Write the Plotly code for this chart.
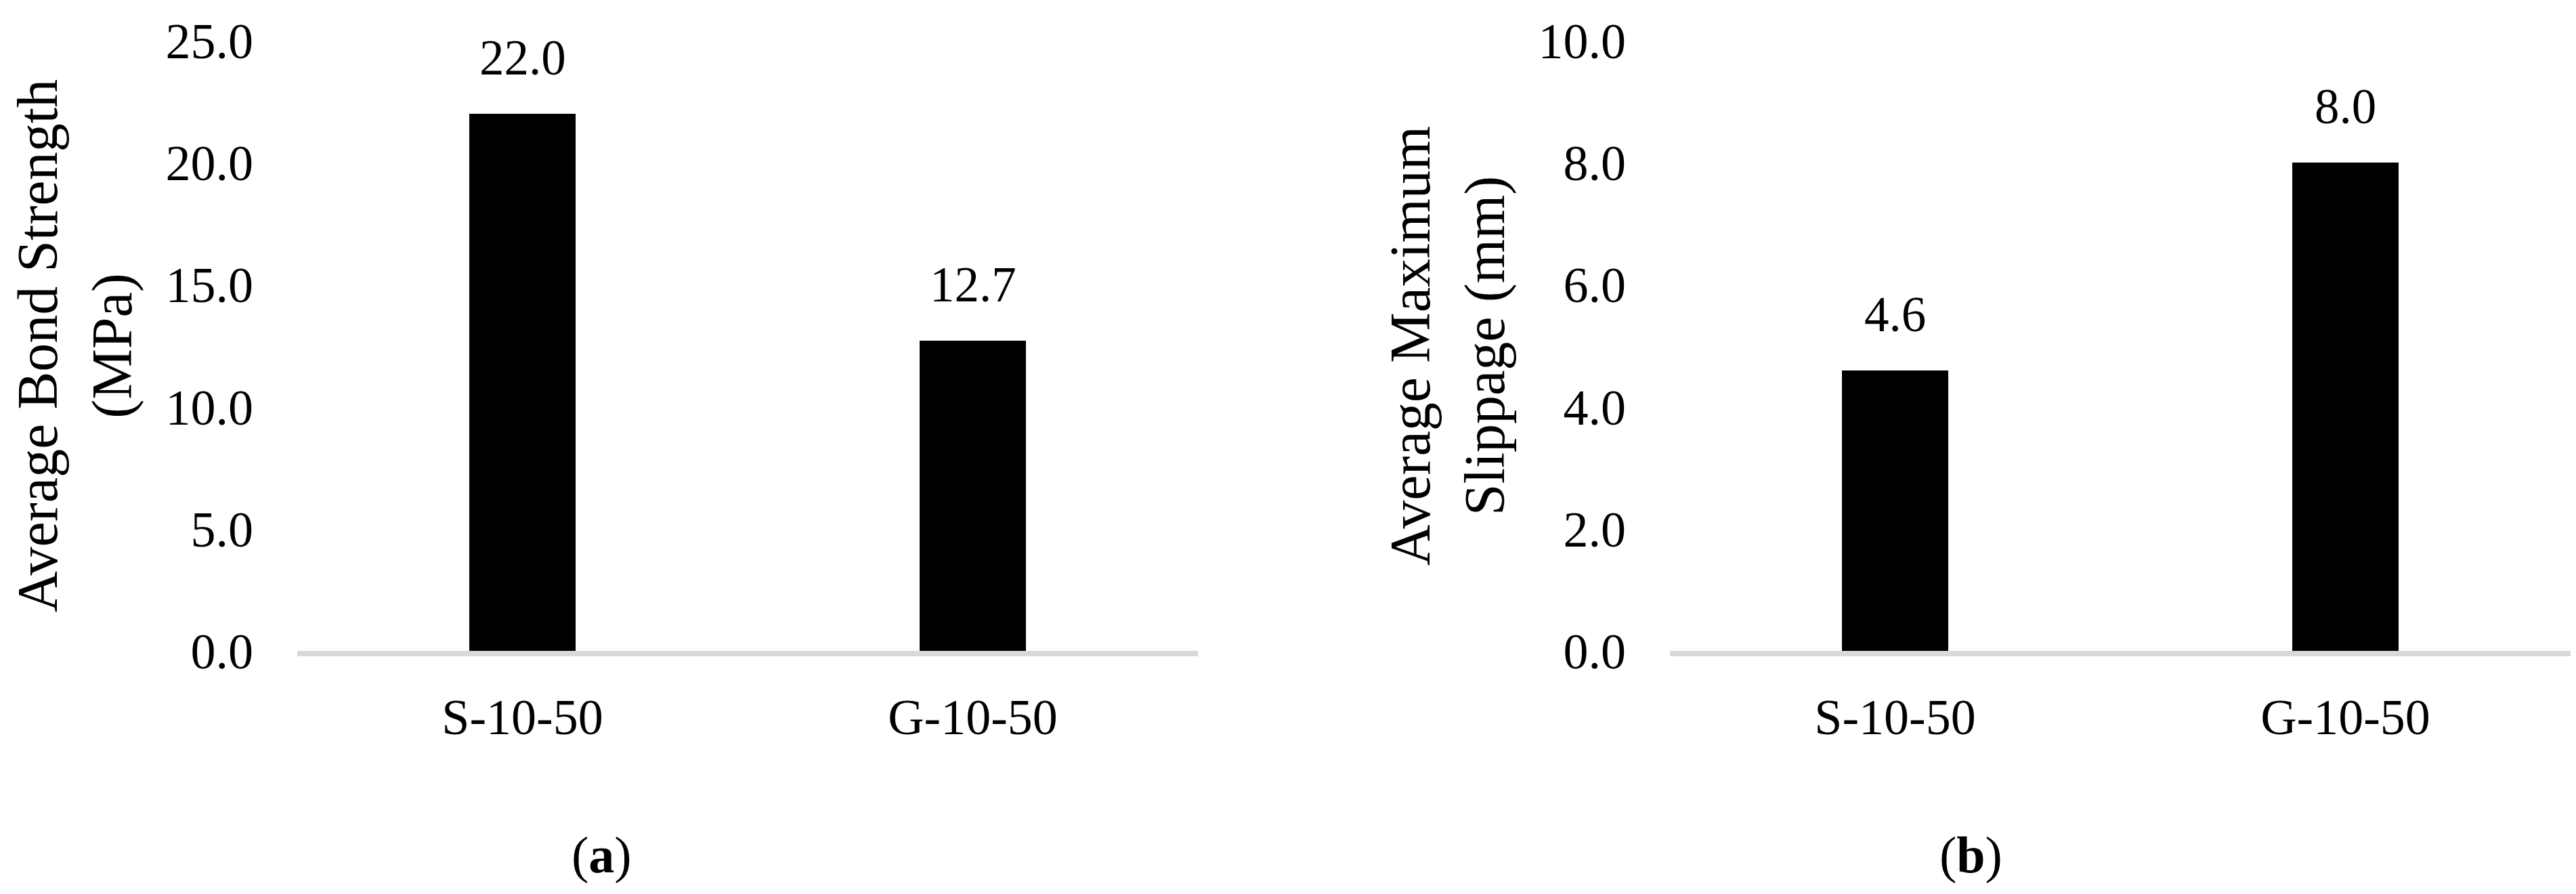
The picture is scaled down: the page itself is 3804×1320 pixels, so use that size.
import plotly.graph_objects as go

# data
categories = ["S-10-50", "G-10-50"]
bondStrength = [22.0, 12.7]      # MPa
maxSlippage = [4.6, 8.0]         # mm
bondTicks = [0, 5, 10, 15, 20, 25]
slipTicks = [0, 2, 4, 6, 8, 10]
panelLabels = ["(<b>a</b>)", "(<b>b</b>)"]

W, H = 3804, 1320
FONT = "Liberation Serif"

fig = go.Figure()

# bars, one per panel
fig.add_trace(go.Bar(x=categories, y=bondStrength, marker=dict(color="black", line=dict(width=0)),
                     width=0.235, xaxis="x", yaxis="y", showlegend=False))
fig.add_trace(go.Bar(x=categories, y=maxSlippage, marker=dict(color="black", line=dict(width=0)),
                     width=0.235, xaxis="x2", yaxis="y2", showlegend=False))

# value labels above the bars
for xs, ys, xr, yr in [(categories, bondStrength, "x", "y"), (categories, maxSlippage, "x2", "y2")]:
    for c, v in zip(xs, ys):
        fig.add_annotation(x=c, y=v, xref=xr, yref=yr, text="{0:.1f}".format(v), showarrow=False,
                           yanchor="bottom", yshift=40, font=dict(family=FONT, size=73, color="black"))

# panel labels (a), (b)
for label, xc in zip(panelLabels, [880 / W, 2902 / W]):
    fig.add_annotation(x=xc, y=1 - 1254 / H, xref="paper", yref="paper", text=label,
                       xanchor="center", yanchor="middle", showarrow=False,
                       font=dict(family=FONT, size=76, color="black"))

ydom = [1 - 953 / H, 1 - 52 / H]
xcommon = dict(showgrid=False, zeroline=False, showline=True, linecolor="#d9d9d9", linewidth=8,
               ticks="", tickfont=dict(family=FONT, size=74, color="black"), ticklabelstandoff=26,
               range=[-0.5, 1.5], fixedrange=True, automargin=False)
ycommon = dict(showgrid=False, zeroline=False, showline=False, ticks="", tickformat=".1f",
               tickfont=dict(family=FONT, size=74, color="black"), ticklabelstandoff=64,
               title_font=dict(family=FONT, size=84, color="black"), title_standoff=22,
               automargin=False)

fig.update_layout(
    width=W, height=H, autosize=False,
    margin=dict(l=0, r=0, t=0, b=0),
    paper_bgcolor="white", plot_bgcolor="white",
    font=dict(family=FONT, color="black"),
    bargap=0,
    xaxis=dict(domain=[431 / W, 1761 / W], anchor="y", **xcommon),
    xaxis2=dict(domain=[2458 / W, 3788 / W], anchor="y2", **xcommon),
    yaxis=dict(domain=ydom, anchor="x", range=[0, 25], tickvals=bondTicks,
               title_text="Average Bond Strength<br>(MPa)", **ycommon),
    yaxis2=dict(domain=ydom, anchor="x2", range=[0, 10], tickvals=slipTicks,
                title_text="Average Maximum<br>Slippage (mm)", **ycommon),
)

fig.write_html("out.html")
